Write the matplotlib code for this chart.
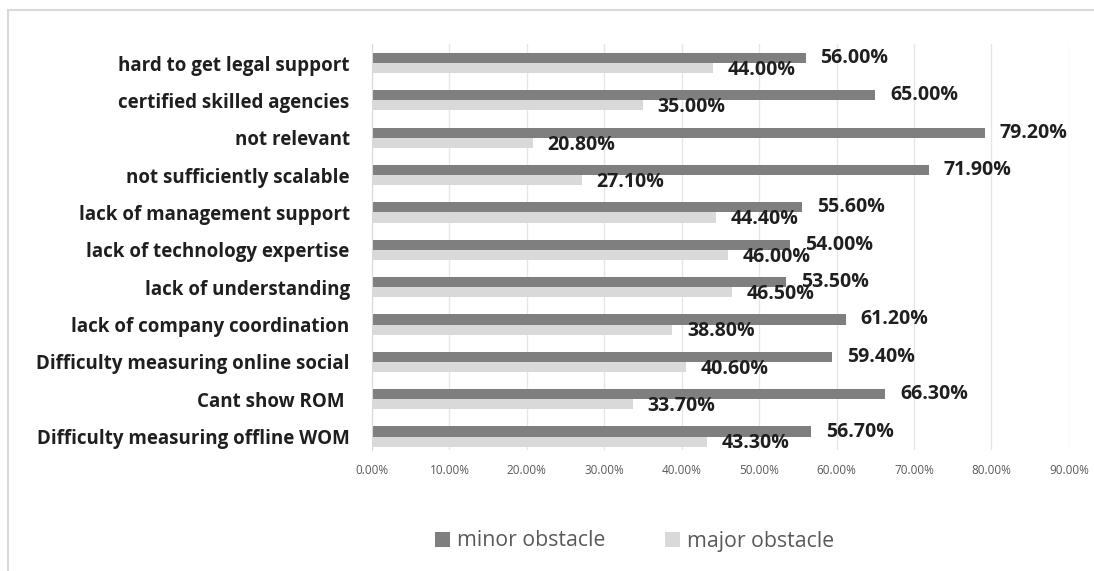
import numpy as np
import matplotlib
matplotlib.use("Agg")
import matplotlib.pyplot as plt
from matplotlib.ticker import PercentFormatter

# categories top to bottom
categories = [
    "hard to get legal support",
    "certified skilled agencies",
    "not relevant",
    "not sufficiently scalable",
    "lack of management support",
    "lack of technology expertise",
    "lack of understanding",
    "lack of company coordination",
    "Difficulty measuring online social",
    "Cant show ROM ",
    "Difficulty measuring offline WOM",
]
minor = [56.0, 65.0, 79.2, 71.9, 55.6, 54.0, 53.5, 61.2, 59.4, 66.3, 56.7]
major = [44.0, 35.0, 20.8, 27.1, 44.4, 46.0, 46.5, 38.8, 40.6, 33.7, 43.3]
xticks = [0, 10, 20, 30, 40, 50, 60, 70, 80, 90]

plt.rcParams['font.family'] = ['Open Sans', 'DejaVu Sans']

fig = plt.figure(figsize=(10.94, 5.71), dpi=100)
ax = fig.add_axes([0.340, 1 - 450 / 571, 0.977 - 0.340, (450 - 44) / 571])

y = np.arange(len(categories))
h = 0.27
c_minor = "#7f7f7f"
c_major = "#d9d9d9"

ax.barh(y - h / 2, minor, height=h, color=c_minor, label="minor obstacle", zorder=2)
ax.barh(y + h / 2, major, height=h, color=c_major, label="major obstacle", zorder=2)

for i in range(len(categories)):
    ax.text(minor[i] + 1.9, y[i] - h / 2, "%.2f%%" % minor[i], va="center",
            ha="left", fontsize=14, fontweight="bold", color="#1f1f1f", zorder=3)
    ax.text(major[i] + 1.9, y[i] + h / 2 + 0.05, "%.2f%%" % major[i], va="center",
            ha="left", fontsize=14, fontweight="bold", color="#1f1f1f", zorder=3)

ax.set_xlim(0, 90)
ax.set_ylim(10.36, -0.51)
ax.set_xticks(xticks)
ax.xaxis.set_major_formatter(PercentFormatter(decimals=2))
ax.set_yticks(y)
ax.set_yticklabels(categories, fontsize=13.5, fontweight="bold", color="#1f1f1f")
ax.tick_params(axis="x", labelsize=8.5, labelcolor="#595959", length=0, pad=10)
ax.tick_params(axis="y", length=0, pad=16)
ax.grid(axis="x", color="#e6e6e6", linewidth=1, zorder=0)
for s in ["top", "right", "bottom"]:
    ax.spines[s].set_visible(False)
ax.spines["left"].set_color("#d9d9d9")

leg = fig.legend(loc="center", bbox_to_anchor=(0.580, 1 - 541 / 571), ncol=2, frameon=False,
                 fontsize=15.3, handlelength=0.7, handleheight=0.7, columnspacing=2.8,
                 handletextpad=0.35)
for t in leg.get_texts():
    t.set_color("#595959")

# outer frame (top and left edges visible)
fig.add_artist(plt.Line2D([8 / 1094, 1], [1 - 10 / 571, 1 - 10 / 571], color="#d9d9d9", lw=1.5))
fig.add_artist(plt.Line2D([8 / 1094, 8 / 1094], [1 - 10 / 571, 0], color="#d9d9d9", lw=1.5))

fig.savefig("out.png", dpi=100)
